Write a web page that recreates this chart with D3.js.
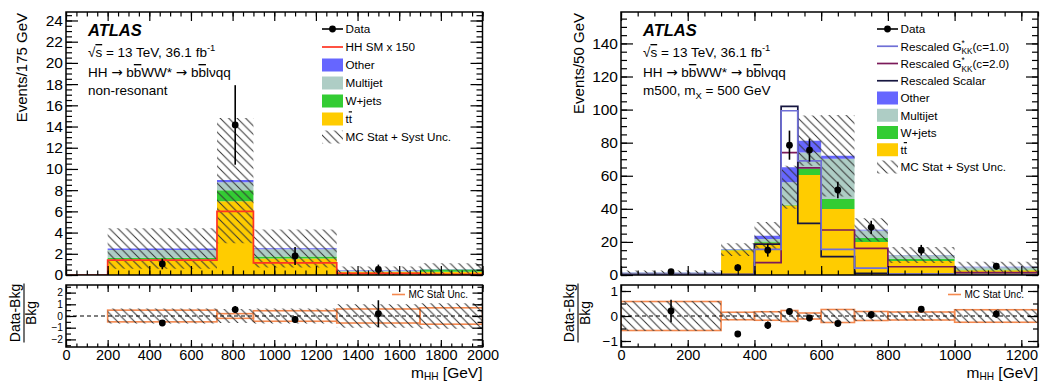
<!DOCTYPE html>
<html>
<head>
<meta charset="utf-8">
<script src="https://cdn.jsdelivr.net/npm/d3@7"></script>
<style>
  body { margin: 0; background: #fff; }
  svg text { font-family: "Liberation Sans", Arial, Helvetica, sans-serif; fill: #000; }
</style>
</head>
<body>
<svg id="chart" width="1040" height="382"></svg>
<script>
// ---------------- non-resonant selection (left) ----------------
const nrEdges      = [200, 725, 900, 1300, 1700, 2000];
const nrTtbar      = [1.45, 6.95, 1.55, 0.30, 0.30];
const nrWjets      = [0.17, 1.05, 0.20, 0.03, 0.23];
const nrMultijet   = [0.73, 0.75, 0.67, 0.09, 0.00];
const nrOther      = [0.15, 0.22, 0.10, 0.05, 0.02];
const nrUncLow     = [0.6, 3.0, 0.7, 0.0, 0.0];
const nrUncHigh    = [4.4, 14.8, 4.3, 0.8, 1.1];
const nrSigEdges   = [0, 200, 725, 900, 1300, 1700, 2000];
const nrSignal     = [0, 1.4, 6.0, 1.15, 0.15, 0.05];
const nrDataX      = [462.5, 812.5, 1100, 1500];
const nrData       = [1.04, 14.15, 1.8, 0.53];
const nrDataErr    = [0.5, 3.75, 0.85, 0.45];
const nrRatio      = [-0.6, 0.55, -0.3, 0.2];
const nrRatioErr   = [0.2, 0.3, 0.3, 1.15];
const nrRatioStat  = [0.5, 0.2, 0.45, 0.6, 0.7];
const nrRatioSyst  = [0.65, 0.6, 0.65, 1.0, 1.1];

// ---------------- m500 resonant selection (right) ----------------
const m5Edges      = [0, 300, 400, 480, 530, 600, 700, 800, 1000, 1250];
const m5Ttbar      = [0.4, 15.0, 19.5, 42.0, 60.4, 39.9, 20.0, 8.4, 2.8];
const m5Wjets      = [0.2, 0.2, 0.8, 0.5, 4.0, 6.0, 2.4, 1.5, 0.6];
const m5Multijet   = [0.9, 0.0, 1.4, 13.5, 9.7, 24.4, 4.5, 2.0, 1.3];
const m5Other      = [0.2, 0.3, 2.0, 9.2, 7.1, 1.8, 0.4, 0.2, 0.3];
const m5UncLow     = [0.7, 11.5, 15.5, 40, 66, 47.5, 20.3, 7.2, 2.0];
const m5UncHigh    = [2.7, 19.2, 32.0, 66, 96.5, 96.7, 34.3, 17.0, 8.0];
const m5GkkC1      = [0.3, 0.3, 15.5, 99.3, 69.0, 15.5, 4.2, 0.6, 0.3];
const m5GkkC2      = [0.3, 0.3, 7.5, 74.0, 64.8, 27.2, 16.1, 5.0, 1.4];
const m5Scalar     = [0.3, 0.3, 18.7, 102.0, 31.2, 11.1, 1.0, 0.4, 0.2];
const m5DataX      = [150, 350, 440, 505, 565, 650, 750, 900, 1125];
const m5Data       = [2.0, 4.4, 15.0, 78.5, 75.5, 51.4, 28.8, 15.0, 5.3];
const m5DataErr    = [1.4, 2.1, 3.9, 8.8, 7.0, 5.0, 4.0, 3.2, 2.0];
const m5Ratio      = [0.2, -0.72, -0.37, 0.18, -0.08, -0.3, 0.05, 0.27, 0.08];
const m5RatioErr   = [0.45, 0.1, 0.15, 0.12, 0.08, 0.08, 0.14, 0.1, 0.15];
const m5RatioStat  = [0.58, 0.15, 0.17, 0.22, 0.12, 0.26, 0.18, 0.16, 0.25];
const m5RatioSyst  = [0.6, 0.17, 0.2, 0.22, 0.13, 0.28, 0.2, 0.18, 0.27];

// ---------------- tick labels ----------------
const nrYTicks   = d3.range(0, 25, 2);
const nrXTicks   = d3.range(0, 2001, 200);
const nrRTicks   = [-2, -1, 0, 1, 2];
const m5YTicks   = d3.range(0, 141, 20);
const m5XTicks   = d3.range(0, 1201, 200);
const m5RTicks   = [-1, 0, 1];

const COLORS = { ttbar: "#ffcc00", wjets: "#33cc33", multijet: "#aecdc5", other: "#6666ff" };
const SIG = { hh: "#ff3322", c1: "#6f6fd6", c2: "#7b1a5a", scalar: "#161640" };
const STAT_COLOR = "#f5894f";

const MAIN_TOP = 12, MAIN_BOT = 275, RAT_TOP = 285, RAT_BOT = 347;
const LEG_FS = 11.7, ANN_FS = 13.5;

const svg = d3.select("#chart");
const defs = svg.append("defs");

// diagonal "\\\" hatching
function hatchPattern(id, s) {
  const p = defs.append("pattern").attr("id", id)
    .attr("patternUnits", "userSpaceOnUse").attr("width", s).attr("height", s);
  p.append("path")
    .attr("d", `M0,0L${s},${s}M${-s / 2},${s / 2}L${s / 2},${s * 1.5}M${s / 2},${-s / 2}L${s * 1.5},${s / 2}`)
    .attr("stroke", "#333").attr("stroke-width", 1).attr("fill", "none");
}
hatchPattern("hatch", 8.5);

// text with overlines, superscripts, subscripts and symbol glyphs
function rich(sel, parts, size, subShift = 0.32, subSize = 0.7) {
  let shift = 0;
  parts.forEach(([s, k, dx]) => {
    const t = sel.append("tspan").text(s);
    let target = 0;
    if (k === "sup") { target = -size * 0.42; t.attr("font-size", size * 0.7); }
    if (k === "sub") { target = size * subShift; t.attr("font-size", size * subSize); }
    if (k === "over") t.style("text-decoration", "overline");
    if (k === "sym") t.attr("font-family", "DejaVu Sans");
    if (dx) t.attr("dx", dx);
    t.attr("dy", target - shift);
    shift = target;
  });
  return sel;
}

function stepPoints(edges, vals) {
  const pts = vals.map((v, i) => ({ x: edges[i], v }));
  pts.push({ x: edges[edges.length - 1], v: vals[vals.length - 1] });
  return pts;
}

function drawPanel(p) {
  const x = d3.scaleLinear().domain([0, p.xMax]).range([p.x0, p.x1]);
  const y = d3.scaleLinear().domain([0, p.yMax]).range([MAIN_BOT, MAIN_TOP]);
  const yr = d3.scaleLinear().domain([-p.rMax, p.rMax]).range([RAT_BOT, RAT_TOP]);

  defs.append("clipPath").attr("id", p.id + "-cm").append("rect")
    .attr("x", p.x0).attr("y", MAIN_TOP).attr("width", p.x1 - p.x0).attr("height", MAIN_BOT - MAIN_TOP);
  defs.append("clipPath").attr("id", p.id + "-cr").append("rect")
    .attr("x", p.x0).attr("y", RAT_TOP).attr("width", p.x1 - p.x0).attr("height", RAT_BOT - RAT_TOP);

  // ---- main pad ----
  const gm = svg.append("g").attr("clip-path", `url(#${p.id}-cm)`);
  const rows = p.ttbar.map((v, i) => ({ ttbar: v, wjets: p.wjets[i], multijet: p.multijet[i], other: p.other[i] }));
  const layers = d3.stack().keys(["ttbar", "wjets", "multijet", "other"])(rows);
  const area = d3.area().curve(d3.curveStepAfter)
    .x(d => x(d.x)).y0(d => y(d.y0)).y1(d => y(d.y1));
  layers.forEach(layer => {
    const pts = layer.map((d, i) => ({ x: p.edges[i], y0: d[0], y1: d[1] }));
    pts.push({ x: p.edges[p.edges.length - 1], y0: pts[pts.length - 1].y0, y1: pts[pts.length - 1].y1 });
    gm.append("path").attr("d", area(pts)).attr("fill", COLORS[layer.key]);
  });

  // total uncertainty band
  const band = p.uncLow.map((lo, i) => ({ x: p.edges[i], y0: lo, y1: p.uncHigh[i] }));
  band.push({ x: p.edges[p.edges.length - 1], y0: band[band.length - 1].y0, y1: band[band.length - 1].y1 });
  gm.append("path").attr("d", area(band)).attr("fill", "url(#hatch)");

  // signal histograms
  const line = d3.line().curve(d3.curveStepAfter).x(d => x(d.x)).y(d => y(d.v));
  p.signals.forEach(s => {
    gm.append("path").attr("d", line(stepPoints(s.edges, s.vals)))
      .attr("fill", "none").attr("stroke", s.color).attr("stroke-width", 1.7);
  });

  // data
  const gd = svg.append("g");
  p.dataX.forEach((dx, i) => {
    gd.append("line").attr("x1", x(dx)).attr("x2", x(dx))
      .attr("y1", y(Math.max(0, p.data[i] - p.dataErr[i]))).attr("y2", y(p.data[i] + p.dataErr[i]))
      .attr("stroke", "#000").attr("stroke-width", 1.6);
    gd.append("circle").attr("cx", x(dx)).attr("cy", y(p.data[i])).attr("r", 3.4).attr("fill", "#000");
  });

  // ---- ratio pad ----
  const gr = svg.append("g").attr("clip-path", `url(#${p.id}-cr)`);
  const rband = p.ratioSyst.map((u, i) => ({ x: p.edges[i], y0: -u, y1: u }));
  rband.push({ x: p.edges[p.edges.length - 1], y0: rband[rband.length - 1].y0, y1: rband[rband.length - 1].y1 });
  const rarea = d3.area().curve(d3.curveStepAfter).x(d => x(d.x)).y0(d => yr(d.y0)).y1(d => yr(d.y1));
  p.ratioStat.forEach((u, i) => {
    gr.append("rect").attr("x", x(p.edges[i])).attr("width", x(p.edges[i + 1]) - x(p.edges[i]))
      .attr("y", yr(u)).attr("height", yr(-u) - yr(u))
      .attr("fill", "none").attr("stroke", STAT_COLOR).attr("stroke-width", 1.6);
  });
  gr.append("path").attr("d", rarea(rband)).attr("fill", "url(#hatch)");
  gr.append("line").attr("x1", p.x0).attr("x2", p.x1).attr("y1", yr(0)).attr("y2", yr(0))
    .attr("stroke", "#000").attr("stroke-width", 1.2).attr("stroke-dasharray", "4,3");
  p.dataX.forEach((dx, i) => {
    gr.append("line").attr("x1", x(dx)).attr("x2", x(dx))
      .attr("y1", yr(p.ratio[i] - p.ratioErr[i])).attr("y2", yr(p.ratio[i] + p.ratioErr[i]))
      .attr("stroke", "#000").attr("stroke-width", 1.6);
    gr.append("circle").attr("cx", x(dx)).attr("cy", yr(p.ratio[i])).attr("r", 3.4).attr("fill", "#000");
  });

  // ratio legend
  svg.append("line").attr("x1", p.statLegX).attr("x2", p.statLegX + 13).attr("y1", 294.5).attr("y2", 294.5)
    .attr("stroke", STAT_COLOR).attr("stroke-width", 1.6);
  svg.append("text").attr("x", p.statLegX + 16.5).attr("y", 298).attr("font-size", 10).text("MC Stat Unc.");

  // ---- frames and ticks ----
  const fmt = d3.format("d");
  function ticks(axisFn, scale, tr, values, len, labels, fs, pad = 4) {
    const a = axisFn(scale).tickValues(values).tickSize(-len).tickPadding(labels ? pad : 0)
      .tickFormat(labels ? fmt : "");
    const g = svg.append("g").attr("transform", tr).call(a);
    g.select(".domain").remove();
    g.selectAll(".tick line").attr("stroke", "#000").attr("stroke-width", 1.2);
    g.selectAll("text").attr("font-size", fs || 15.5).attr("font-family", null).attr("fill", "#000");
    return g;
  }
  function frame(top, bot, yS, yMajor, yMinor, yLen, xLen, xLabels, yFs) {
    const xMaj = d3.range(0, p.xMax + 1e-6, 200);
    const xMin = d3.range(0, p.xMax + 1e-6, 50);
    ticks(d3.axisBottom, x, `translate(0,${bot})`, xMin, xLen / 2, false);
    ticks(d3.axisBottom, x, `translate(0,${bot})`, xMaj, xLen, false);
    ticks(d3.axisTop, x, `translate(0,${top})`, xMin, xLen / 2, false);
    ticks(d3.axisTop, x, `translate(0,${top})`, xMaj, xLen, false);
    ticks(d3.axisLeft, yS, `translate(${p.x0},0)`, yMinor, yLen / 2, false);
    ticks(d3.axisLeft, yS, `translate(${p.x0},0)`, yMajor, yLen, true, yFs).selectAll("text").attr("dx", 1);
    ticks(d3.axisRight, yS, `translate(${p.x1},0)`, yMinor, yLen / 2, false);
    ticks(d3.axisRight, yS, `translate(${p.x1},0)`, yMajor, yLen, false);
    if (xLabels) ticks(d3.axisBottom, x, `translate(0,${bot})`, xLabels, 0.01, true, 14.5, 3);
    svg.append("rect").attr("x", p.x0).attr("y", top).attr("width", p.x1 - p.x0).attr("height", bot - top)
      .attr("fill", "none").attr("stroke", "#000").attr("stroke-width", 1.5);
  }
  frame(MAIN_TOP, MAIN_BOT, y, p.yTicks,
    d3.range(0, p.yMax, p.yMinorStep), 12, 9, null, 15.5);
  frame(RAT_TOP, RAT_BOT, yr, p.rTicks,
    d3.range(-Math.floor(p.rMax / 0.5) * 0.5, p.rMax, 0.5), 10, 7, p.xTicks, p.rFs);

  // axis titles
  svg.append("text").attr("transform", `translate(${p.yTitleX},${MAIN_TOP + 1}) rotate(-90)`)
    .attr("text-anchor", "end").attr("font-size", 15).text(p.yTitle);
  const xt = svg.append("text").attr("x", p.x1).attr("y", 377.5).attr("text-anchor", "end").attr("font-size", 15.5);
  rich(xt, [["m", ""], ["HH", "sub"], [" [GeV]", ""]], 15.5, 0.15, 0.65);

  // ratio title as a fraction
  const yc = 313;
  svg.append("text").attr("transform", `translate(${p.rTitleX},${yc}) rotate(-90)`)
    .attr("text-anchor", "middle").attr("font-size", 14).text("Data-Bkg");
  svg.append("line").attr("x1", p.rTitleX + 4).attr("x2", p.rTitleX + 4).attr("y1", yc - 29.5).attr("y2", yc + 29.5)
    .attr("stroke", "#000").attr("stroke-width", 1.1);
  svg.append("text").attr("transform", `translate(${p.rTitleX + 15.5},${yc}) rotate(-90)`)
    .attr("text-anchor", "middle").attr("font-size", 14).text("Bkg");

  // ATLAS label and selection text
  const tx = p.x0 + 22;
  svg.append("text").attr("x", tx).attr("y", 36).attr("font-size", 16.5)
    .attr("font-weight", "bold").attr("font-style", "italic").text("ATLAS");
  rich(svg.append("text").attr("x", tx).attr("y", 57).attr("font-size", ANN_FS),
    [["\u221A", ""], ["s", "over"], [" = 13 TeV, 36.1 fb", ""], ["-1", "sup"]], ANN_FS);
  rich(svg.append("text").attr("x", tx).attr("y", 77).attr("font-size", ANN_FS),
    [["HH ", ""], ["\u2192", "sym"], ["  b", ""], ["b", "over"], ["WW* ", ""], ["\u2192", "sym"], [" b", ""],
     ["b", "over"], ["l\u03BDqq", ""]], ANN_FS);
  rich(svg.append("text").attr("x", tx).attr("y", 95).attr("font-size", ANN_FS), p.selText, ANN_FS);

  // legend
  p.legend.forEach((e, i) => {
    const yy = p.legY0 + i * p.legDy;
    const lx = p.legX;
    if (e.type === "data") {
      svg.append("line").attr("x1", lx).attr("x2", lx + 21).attr("y1", yy).attr("y2", yy)
        .attr("stroke", "#000").attr("stroke-width", 1.6);
      svg.append("circle").attr("cx", lx + 10.5).attr("cy", yy).attr("r", 3.4).attr("fill", "#000");
    } else if (e.type === "line") {
      svg.append("line").attr("x1", lx).attr("x2", lx + 21).attr("y1", yy).attr("y2", yy)
        .attr("stroke", e.color).attr("stroke-width", 1.7);
    } else if (e.type === "box") {
      svg.append("rect").attr("x", lx).attr("y", yy - 6.5).attr("width", 21).attr("height", 13)
        .attr("fill", e.color);
    } else {
      svg.append("rect").attr("x", lx).attr("y", yy - 6.5).attr("width", 21).attr("height", 13)
        .attr("fill", "url(#hatch)");
    }
    rich(svg.append("text").attr("x", lx + 23.5).attr("y", yy + 4.3).attr("font-size", LEG_FS), e.label, LEG_FS);
  });
}

const ttLabel = [["t", ""], ["t", "over"]];
const gkk = c => [["Rescaled G", ""], ["*", "sup"], ["KK", "sub", -3.2], [`(c=${c})`, ""]];

drawPanel({
  id: "nr", x0: 66, x1: 482.5, xMax: 2000, yMax: 24.8, rMax: 2.65,
  edges: nrEdges, ttbar: nrTtbar, wjets: nrWjets, multijet: nrMultijet, other: nrOther,
  uncLow: nrUncLow, uncHigh: nrUncHigh,
  signals: [{ edges: nrSigEdges, vals: nrSignal, color: SIG.hh }],
  dataX: nrDataX, data: nrData, dataErr: nrDataErr,
  ratio: nrRatio, ratioErr: nrRatioErr, ratioStat: nrRatioStat, ratioSyst: nrRatioSyst,
  yTicks: nrYTicks, yMinorStep: 0.5, rTicks: nrRTicks, xTicks: nrXTicks, rFs: 10.2,
  yTitle: "Events/175 GeV", yTitleX: 27, rTitleX: 20,
  statLegX: 392,
  selText: [["non-resonant", ""]],
  legX: 322, legY0: 29, legDy: 18,
  legend: [
    { type: "data", label: [["Data", ""]] },
    { type: "line", color: SIG.hh, label: [["HH SM x 150", ""]] },
    { type: "box", color: COLORS.other, label: [["Other", ""]] },
    { type: "box", color: COLORS.multijet, label: [["Multijet", ""]] },
    { type: "box", color: COLORS.wjets, label: [["W+jets", ""]] },
    { type: "box", color: COLORS.ttbar, label: ttLabel },
    { type: "hatch", label: [["MC Stat + Syst Unc.", ""]] }
  ]
});

drawPanel({
  id: "m5", x0: 621, x1: 1038, xMax: 1250, yMax: 159, rMax: 1.24,
  edges: m5Edges, ttbar: m5Ttbar, wjets: m5Wjets, multijet: m5Multijet, other: m5Other,
  uncLow: m5UncLow, uncHigh: m5UncHigh,
  signals: [
    { edges: m5Edges, vals: m5GkkC2, color: SIG.c2 },
    { edges: m5Edges, vals: m5Scalar, color: SIG.scalar },
    { edges: m5Edges, vals: m5GkkC1, color: SIG.c1 }
  ],
  dataX: m5DataX, data: m5Data, dataErr: m5DataErr,
  ratio: m5Ratio, ratioErr: m5RatioErr, ratioStat: m5RatioStat, ratioSyst: m5RatioSyst,
  yTicks: m5YTicks, yMinorStep: 5, rTicks: m5RTicks, xTicks: m5XTicks, rFs: 13.5,
  yTitle: "Events/50 GeV", yTitleX: 584, rTitleX: 574,
  statLegX: 948,
  selText: [["m500, m", ""], ["X", "sub"], [" = 500 GeV", ""]],
  legX: 877, legY0: 29, legDy: 17.25,
  legend: [
    { type: "data", label: [["Data", ""]] },
    { type: "line", color: SIG.c1, label: gkk("1.0") },
    { type: "line", color: SIG.c2, label: gkk("2.0") },
    { type: "line", color: SIG.scalar, label: [["Rescaled Scalar", ""]] },
    { type: "box", color: COLORS.other, label: [["Other", ""]] },
    { type: "box", color: COLORS.multijet, label: [["Multijet", ""]] },
    { type: "box", color: COLORS.wjets, label: [["W+jets", ""]] },
    { type: "box", color: COLORS.ttbar, label: ttLabel },
    { type: "hatch", label: [["MC Stat + Syst Unc.", ""]] }
  ]
});
</script>
</body>
</html>
